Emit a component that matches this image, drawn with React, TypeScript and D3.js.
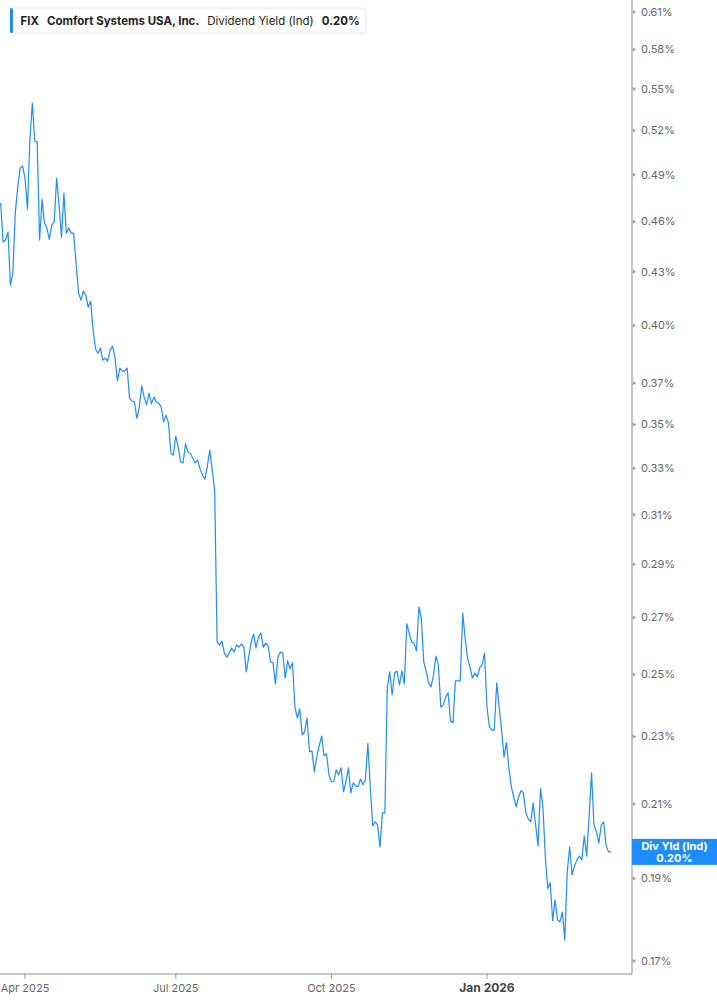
import React, { useEffect, useRef } from "react";
import * as d3 from "d3";

// dividend yield (%), one value per trading day
const startDate = "2025-03-18";
const yieldValues: number[] = [
  0.4717, 0.4476, 0.4488, 0.4536, 0.4223, 0.4292, 0.4653, 0.4819, 0.4944, 0.4958,
  0.4877, 0.4679, 0.5134, 0.5396, 0.5127, 0.512, 0.4488, 0.4741, 0.4591, 0.456,
  0.4492, 0.4579, 0.4598, 0.4877, 0.4704, 0.4504, 0.478, 0.4529, 0.456, 0.4529,
  0.4529, 0.435, 0.4178, 0.4139, 0.4189, 0.4166, 0.41, 0.4133, 0.3976, 0.3875,
  0.3853, 0.388, 0.3818, 0.3827, 0.3813, 0.3869, 0.389, 0.3832, 0.3712, 0.3777,
  0.3761, 0.3761, 0.3777, 0.3627, 0.3613, 0.3608, 0.353, 0.3584, 0.3687, 0.3632,
  0.3594, 0.3652, 0.3599, 0.3632, 0.3608, 0.3603, 0.3584, 0.3513, 0.3545, 0.3508,
  0.3368, 0.3359, 0.3446, 0.3396, 0.3328, 0.3324, 0.341, 0.3373, 0.3368, 0.3345,
  0.3324, 0.3337, 0.3297, 0.327, 0.3252, 0.331, 0.3382, 0.3292, 0.3205, 0.2612,
  0.2602, 0.2615, 0.2573, 0.2559, 0.2573, 0.2591, 0.2577, 0.2602, 0.2594,
  0.2605, 0.2594, 0.2509, 0.2559, 0.2612, 0.264, 0.2591, 0.2629, 0.2644, 0.2594,
  0.2608, 0.2598, 0.2543, 0.254, 0.2469, 0.2559, 0.2577, 0.2573, 0.2488, 0.2547,
  0.2519, 0.254, 0.2393, 0.2358, 0.2387, 0.2305, 0.2314, 0.2358, 0.2253, 0.2256,
  0.2193, 0.2238, 0.2272, 0.2301, 0.2241, 0.2247, 0.2184, 0.2164, 0.2164, 0.2199,
  0.2184, 0.2205, 0.2135, 0.2164, 0.2205, 0.2132, 0.2161, 0.2152, 0.215, 0.2172,
  0.2155, 0.217, 0.2278, 0.215, 0.2039, 0.205, 0.2042, 0.1982, 0.2075, 0.2075,
  0.2459, 0.2509, 0.2432, 0.2505, 0.2512, 0.2465, 0.2512, 0.2469, 0.2677, 0.2644,
  0.2612, 0.2608, 0.258, 0.2738, 0.2697, 0.2543, 0.2509, 0.2472, 0.2459, 0.2498,
  0.2563, 0.2533, 0.2393, 0.24, 0.2425, 0.2439, 0.2349, 0.2343, 0.2479, 0.2479,
  0.2479, 0.2716, 0.2626, 0.2556, 0.2526, 0.2488, 0.2505, 0.2492, 0.2523, 0.2533,
  0.2573, 0.2393, 0.233, 0.232, 0.232, 0.2472, 0.2393, 0.232, 0.2238, 0.2281,
  0.2205, 0.215, 0.212, 0.2092, 0.212, 0.2138, 0.2132, 0.2075, 0.2058, 0.205,
  0.2103, 0.2042, 0.1985, 0.2144, 0.2092, 0.1955, 0.1874, 0.1889, 0.1795, 0.1846,
  0.1797, 0.1792, 0.1816, 0.1749, 0.1916, 0.1982, 0.1909, 0.1932, 0.1948, 0.1958,
  0.1948, 0.2012, 0.1958, 0.2064, 0.219, 0.2042, 0.2023, 0.1993, 0.2042, 0.205,
  0.1985, 0.1969, 0.1969,
];
const marketHolidays = [
  "2025-04-18", "2025-05-26", "2025-06-19", "2025-07-04", "2025-09-01",
  "2025-11-27", "2025-12-25", "2026-01-01", "2026-01-19", "2026-02-16",
];
const yTicks = [
  0.17, 0.19, 0.21, 0.23, 0.25, 0.27, 0.29, 0.31, 0.33, 0.35, 0.37, 0.4, 0.43,
  0.46, 0.49, 0.52, 0.55, 0.58, 0.61,
];
const xTicks = ["2025-04-01", "2025-07-01", "2025-10-01", "2026-01-01"];
const xTickLabels = ["Apr 2025", "Jul 2025", "Oct 2025", "Jan 2026"];
const ticker = "FIX";
const company = "Comfort Systems USA, Inc.";
const metric = "Dividend Yield (Ind)";

const parse = d3.timeParse("%Y-%m-%d");
const fmtDay = d3.timeFormat("%Y-%m-%d");

// trading days from startDate, skipping weekends and holidays
function tradingDays(n: number): Date[] {
  const out: Date[] = [];
  const skip = new Set(marketHolidays);
  let d = parse(startDate) as Date;
  while (out.length < n) {
    if (d.getDay() !== 0 && d.getDay() !== 6 && !skip.has(fmtDay(d))) out.push(d);
    d = d3.timeDay.offset(d, 1);
  }
  return out;
}

const App: React.FC = () => {
  const svgRef = useRef<SVGSVGElement | null>(null);

  useEffect(() => {
    const width = 717;
    const height = 1005;
    const plotRight = 632;
    const plotBottom = 974;
    const blue = "#1e8cff";
    const font = "Inter, Roboto, sans-serif";

    const dates = tradingDays(yieldValues.length);
    const data = yieldValues.map((v, i) => ({ i, date: dates[i], v }));

    // trading-day axis: points evenly spaced, no weekend gaps
    const x = d3
      .scaleLinear()
      .domain([0, yieldValues.length - 1])
      .range([0.7, 611]);

    const y = d3.scaleLog().domain([0.17, 0.61]).range([961, 12]);

    const svg = d3
      .select(svgRef.current)
      .attr("width", width)
      .attr("height", height)
      .attr("viewBox", [0, 0, width, height])
      .style("font-family", font);
    svg.selectAll("*").remove();

    svg.append("rect").attr("width", width).attr("height", height).attr("fill", "#fff");

    svg
      .append("clipPath")
      .attr("id", "plot-clip")
      .append("rect")
      .attr("x", 0)
      .attr("y", 0)
      .attr("width", plotRight)
      .attr("height", plotBottom);

    const line = d3
      .line<{ i: number; date: Date; v: number }>()
      .x((d) => x(d.i))
      .y((d) => y(d.v));

    svg
      .append("path")
      .datum(data)
      .attr("clip-path", "url(#plot-clip)")
      .attr("d", line)
      .attr("fill", "none")
      .attr("stroke", blue)
      .attr("stroke-width", 1.2)
      .attr("stroke-linejoin", "round");

    // right axis
    const gy = svg.append("g").attr("transform", `translate(${plotRight},0)`);
    gy.append("line")
      .attr("y1", 0)
      .attr("y2", plotBottom)
      .attr("stroke", "#b3b3b3")
      .attr("stroke-width", 1.5);
    const yt = gy
      .selectAll(".ytick")
      .data(yTicks)
      .enter()
      .append("g")
      .attr("class", "ytick")
      .attr("transform", (d) => `translate(0,${y(d)})`);
    yt.append("path").attr("d", "M1,-2L4,0L1,2Z").attr("fill", "#999");
    yt.append("text")
      .attr("x", 9)
      .attr("dy", "0.35em")
      .attr("font-size", 11)
      .attr("fill", "#666")
      .text((d) => d.toFixed(2) + "%");

    // bottom axis: tick at first trading day on/after each month start
    const bis = d3.bisector((d: Date) => d).left;
    const gx = svg.append("g").attr("transform", `translate(0,${plotBottom})`);
    gx.append("line")
      .attr("x1", 0)
      .attr("x2", plotRight)
      .attr("stroke", "#b3b3b3")
      .attr("stroke-width", 1.5);
    const xt = gx
      .selectAll(".xtick")
      .data(xTicks)
      .enter()
      .append("g")
      .attr("class", "xtick")
      .attr("transform", (d) => `translate(${x(bis(dates, parse(d) as Date))},0)`);
    xt.append("line").attr("y1", 0).attr("y2", 5).attr("stroke", "#999");
    xt.append("text")
      .attr("y", 18)
      .attr("text-anchor", "middle")
      .attr("font-size", (_, i) => (i === 3 ? 12 : 11))
      .attr("font-weight", (_, i) => (i === 3 ? 700 : 400))
      .attr("fill", (_, i) => (i === 3 ? "#444" : "#666"))
      .text((_, i) => xTickLabels[i]);

    // last value label
    const last = data[data.length - 1];
    const ly = y(last.v);
    svg
      .append("rect")
      .attr("x", plotRight)
      .attr("y", ly - 13)
      .attr("width", width - plotRight)
      .attr("height", 26)
      .attr("fill", blue);
    svg
      .append("text")
      .attr("x", (plotRight + width) / 2)
      .attr("y", ly - 2)
      .attr("text-anchor", "middle")
      .attr("font-size", 11)
      .attr("font-weight", 700)
      .attr("fill", "#fff")
      .text("Div Yld (Ind)");
    svg
      .append("text")
      .attr("x", (plotRight + width) / 2)
      .attr("y", ly + 10)
      .attr("text-anchor", "middle")
      .attr("font-size", 11)
      .attr("font-weight", 700)
      .attr("fill", "#fff")
      .text(d3.format(".2f")(last.v) + "%");

    // header
    const hdr = svg.append("g").attr("transform", "translate(10,8)");
    hdr
      .append("rect")
      .attr("width", 356)
      .attr("height", 25)
      .attr("rx", 3)
      .attr("fill", "#fff")
      .attr("stroke", "#e8e8e8");
    hdr.append("rect").attr("width", 3).attr("height", 25).attr("rx", 1.5).attr("fill", blue);
    const ht = hdr
      .append("text")
      .attr("x", 10.5)
      .attr("y", 17)
      .attr("font-size", 11.5)
      .attr("fill", "#222");
    ht.append("tspan").attr("font-weight", 700).text(ticker);
    ht.append("tspan").attr("dx", 8.5).attr("font-weight", 700).text(company);
    ht.append("tspan").attr("dx", 8).text(metric);
    ht.append("tspan").attr("dx", 8).attr("font-weight", 700).text(d3.format(".2f")(last.v) + "%");
  }, []);

  return (
    <div style={{ position: "absolute", left: 0, top: 0 }}>
      <svg ref={svgRef} style={{ display: "block" }}></svg>
    </div>
  );
};

export default App;
